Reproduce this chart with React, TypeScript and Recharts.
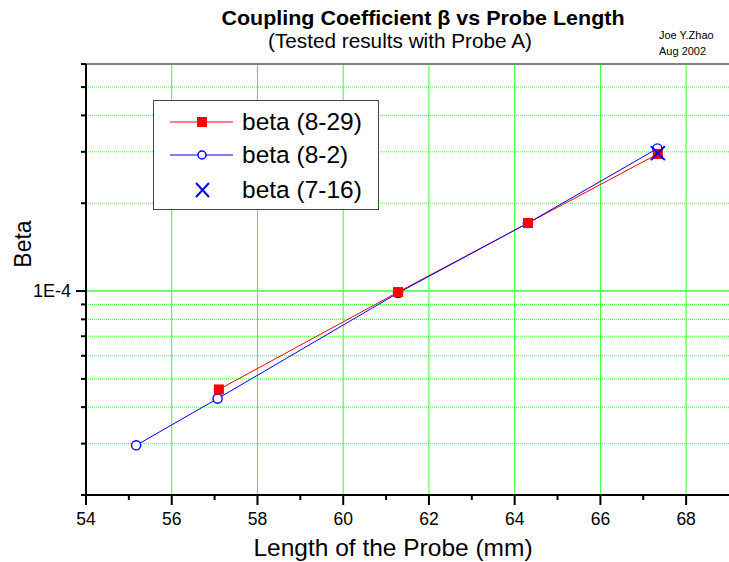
import React from 'react';
import { LineChart, Line, XAxis, YAxis, ReferenceLine, Legend } from 'recharts';

// ---- data ----
const len829 = [57.1, 61.28, 64.31, 67.34];
const beta829 = [4.6e-5, 0.992e-4, 1.71e-4, 2.95e-4];
const len82 = [55.17, 57.07, 61.28, 64.31, 67.33];
const beta82 = [2.96e-5, 4.28e-5, 0.985e-4, 1.71e-4, 3.08e-4];
const len716 = [67.34];
const beta716 = [2.97e-4];

const seriesNames = ['beta (8-29)', 'beta (8-2)', 'beta (7-16)'];
const xTicks = [54, 55, 56, 57, 58, 59, 60, 61, 62, 63, 64, 65, 66, 67, 68];
const xMajorTicks = [54, 56, 58, 60, 62, 64, 66, 68];
const yTicks = [2e-5, 3e-5, 4e-5, 5e-5, 6e-5, 7e-5, 8e-5, 9e-5, 1e-4, 2e-4, 3e-4, 4e-4, 5e-4, 6e-4];
const yMajorTicks = [1e-4];
const yMinorGrid = [3e-5, 4e-5, 5e-5, 6e-5, 7e-5, 8e-5, 9e-5, 2e-4, 3e-4, 4e-4, 5e-4];
const xGrid = [56, 58, 60, 62, 64, 66, 68];

const toRows = (xs: number[], ys: number[]) => xs.map((x, i) => ({ len: x, beta: ys[i] }));
const red = toRows(len829, beta829);
const blue = toRows(len82, beta82);
const cross = toRows(len716, beta716);

const FONT = '"Liberation Sans", Arial, sans-serif';
const RED = '#ff0000';
const BLUE = '#0000ff';
const GREEN = '#33ff33';

const SquareDot = (p: any) => (
  <rect key={`s${p.index}`} x={p.cx - 5} y={p.cy - 5} width={10} height={10} fill={RED} />
);
const CircleDot = (p: any) => (
  <circle key={`c${p.index}`} cx={p.cx} cy={p.cy} r={4.6} fill="#fff" stroke={BLUE} strokeWidth={1.4} />
);
const CrossDot = (p: any) => (
  <g key={`x${p.index}`} stroke={BLUE} strokeWidth={2}>
    <line x1={p.cx - 7} y1={p.cy - 7} x2={p.cx + 7} y2={p.cy + 7} />
    <line x1={p.cx - 7} y1={p.cy + 7} x2={p.cx + 7} y2={p.cy - 7} />
  </g>
);

const XTick = (p: any) => {
  const v = p.payload.value;
  const major = xMajorTicks.includes(v);
  const axisY = p.y - 12;
  return (
    <g>
      <line x1={p.x} x2={p.x} y1={axisY} y2={axisY + (major ? 10 : 5)} stroke="#000" strokeWidth={2} />
      {major && (
        <text x={p.x} y={axisY + 30} textAnchor="middle" fontFamily={FONT} fontSize={17.5} fill="#000">
          {v}
        </text>
      )}
    </g>
  );
};

const YTick = (p: any) => {
  const v = p.payload.value;
  const major = yMajorTicks.includes(v);
  const axisX = p.x + 12;
  return (
    <g>
      <line x1={axisX} x2={axisX - (major ? 10 : 5)} y1={p.y} y2={p.y} stroke="#000" strokeWidth={2} />
      {major && (
        <text x={axisX - 15} y={p.y + 6} textAnchor="end" fontFamily={FONT} fontSize={18} fill="#000">
          1E-4
        </text>
      )}
    </g>
  );
};

const LegendBox = () => {
  const rows = [22, 55, 90];
  return (
    <svg width={226} height={110} style={{ display: 'block' }}>
      <rect x={0.5} y={0.5} width={225} height={109} fill="#fff" stroke="#444" strokeWidth={1} />
      <line x1={17} x2={80} y1={rows[0]} y2={rows[0]} stroke={RED} strokeWidth={1} />
      <rect x={44} y={rows[0] - 5} width={10} height={10} fill={RED} />
      <line x1={17} x2={80} y1={rows[1]} y2={rows[1]} stroke={BLUE} strokeWidth={1} />
      <circle cx={49} cy={rows[1]} r={4} fill="#fff" stroke={BLUE} strokeWidth={1.5} />
      <g stroke={BLUE} strokeWidth={2}>
        <line x1={43} y1={rows[2] - 7} x2={56} y2={rows[2] + 7} />
        <line x1={43} y1={rows[2] + 7} x2={56} y2={rows[2] - 7} />
      </g>
      {seriesNames.map((n, i) => (
        <text key={n} x={89} y={rows[i] + 8} fontFamily={FONT} fontSize={24.5} fill="#000">
          {n}
        </text>
      ))}
    </svg>
  );
};

export default function App() {
  return (
    <div style={{ position: 'absolute', left: 0, top: 0, width: 729, height: 562, background: '#fff' }}>
      <LineChart width={729} height={562} margin={{ top: 64, right: 0, bottom: 0, left: 0 }}>
        <XAxis
          dataKey="len"
          type="number"
          domain={[54, 69]}
          ticks={xTicks}
          allowDataOverflow
          height={67}
          tickSize={10}
          tickMargin={2}
          tickLine={false}
          axisLine={{ stroke: '#000', strokeWidth: 2 }}
          tick={<XTick />}
          interval={0}
        />
        <YAxis
          dataKey="beta"
          type="number"
          scale="log"
          domain={[2e-5, 6e-4]}
          ticks={yTicks}
          allowDataOverflow
          width={86}
          tickSize={10}
          tickMargin={2}
          tickLine={false}
          axisLine={{ stroke: '#000', strokeWidth: 2 }}
          tick={<YTick />}
          interval={0}
        />
        {xGrid.map((v) => (
          <ReferenceLine key={`vx${v}`} x={v} stroke={GREEN} strokeWidth={1} />
        ))}
        {yMinorGrid.map((v) => (
          <ReferenceLine key={`hy${v}`} y={v} stroke={GREEN} strokeWidth={1} strokeDasharray="1 1" />
        ))}
        <ReferenceLine y={1e-4} stroke="#66ff66" strokeWidth={2} />
        <ReferenceLine y={6e-4} stroke="#808080" strokeWidth={2} />
        <Line data={red} dataKey="beta" stroke={RED} strokeWidth={1} dot={false} activeDot={false} isAnimationActive={false} />
        <Line data={blue} dataKey="beta" stroke={BLUE} strokeWidth={1} dot={false} activeDot={false} isAnimationActive={false} />
        <Line data={blue} dataKey="beta" stroke="none" dot={CircleDot} activeDot={false} isAnimationActive={false} />
        <Line data={red} dataKey="beta" stroke="none" dot={SquareDot} activeDot={false} isAnimationActive={false} />
        <Line data={cross} dataKey="beta" stroke="none" dot={CrossDot} activeDot={false} isAnimationActive={false} />
        <Legend
          layout="horizontal"
          verticalAlign="middle"
          align="center"
          content={() => <LegendBox />}
          wrapperStyle={{ position: 'absolute', left: 153, top: 100, width: 226, height: 110 }}
        />
      </LineChart>
      <svg width={729} height={562} style={{ position: 'absolute', left: 0, top: 0, pointerEvents: 'none' }}>
        <text x={423} y={25} textAnchor="middle" fontFamily={FONT} fontWeight="bold" fontSize={21} fill="#000" textLength={403} lengthAdjust="spacingAndGlyphs">
          Coupling Coefficient β vs Probe Length
        </text>
        <text x={400} y={48} textAnchor="middle" fontFamily={FONT} fontSize={19.5} fill="#000" textLength={264} lengthAdjust="spacingAndGlyphs">
          (Tested results with Probe A)
        </text>
        <text x={659} y={39} fontFamily={FONT} fontSize={11} fill="#000">Joe Y.Zhao</text>
        <text x={659} y={55} fontFamily={FONT} fontSize={11} fill="#000">Aug 2002</text>
        <text transform="translate(31,244) rotate(-90)" textAnchor="middle" fontFamily={FONT} fontSize={23} fill="#000">
          Beta
        </text>
        <text x={393} y={556} textAnchor="middle" fontFamily={FONT} fontSize={24.5} fill="#000">
          Length of the Probe (mm)
        </text>
      </svg>
    </div>
  );
}
